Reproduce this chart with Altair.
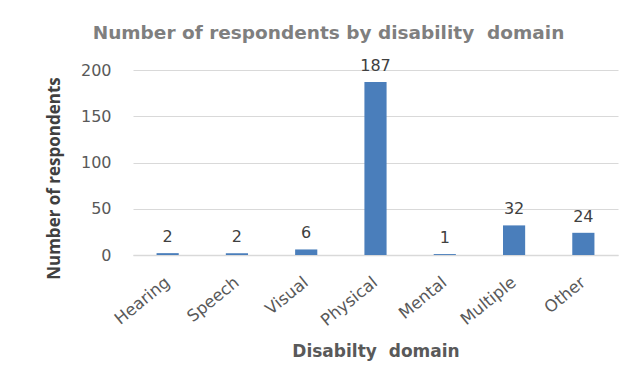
import altair as alt
import pandas as pd

categories = ["Hearing", "Speech", "Visual", "Physical", "Mental", "Multiple", "Other"]
values = [2, 2, 6, 187, 1, 32, 24]

df = pd.DataFrame({"domain": categories, "count": values})

FONT = "Open Sans"
WIDE = "DejaVu Sans"

base = alt.Chart(df).encode(
    x=alt.X("domain:N", sort=categories,
            scale=alt.Scale(paddingInner=0.68, paddingOuter=0.34),
            axis=alt.Axis(title="Disabilty \u00a0domain", labelAngle=-39, labelAlign="right",
                          labelBaseline="middle", labelPadding=25, labelFontSize=16.5,
                          labelColor="#595959", labelFont=WIDE, ticks=False, domain=True,
                          domainColor="#D9D9D9", domainWidth=1.5, titleFont=WIDE,
                          titleFontSize=17, titleFontWeight="bold", titleColor="#595959",
                          titlePadding=15)),
)

bars = base.mark_bar(color="#4A7EBB").encode(
    y=alt.Y("count:Q", scale=alt.Scale(domain=[0, 200], nice=False),
            axis=alt.Axis(title="Number of respondents", values=[0, 50, 100, 150, 200],
                          grid=True, gridColor="#D9D9D9", gridWidth=1, domain=False,
                          ticks=False, labelPadding=22, labelFontSize=16,
                          labelColor="#595959", labelFont=WIDE, titleFont=FONT,
                          titleFontSize=17, titleFontWeight="bold", titleColor="#404040",
                          titleX=-70, titleY=108))
)

labels = base.mark_text(baseline="bottom", dy=-8, fontSize=16, color="#404040",
                        font=WIDE).encode(
    y=alt.Y("count:Q"),
    text=alt.Text("count:Q"),
)

chart = (bars + labels).properties(
    width=485, height=185,
    padding={"left": 125, "top": 62, "right": 17, "bottom": 112},
    autosize=alt.AutoSizeParams(type="none"),
    title=alt.TitleParams("Number of respondents by disability \u00a0domain", font=WIDE,
                          fontSize=18.5, fontWeight="bold", color="#7F7F7F",
                          dx=-47, offset=16),
).configure_view(stroke=None)

chart.save("out.html", embed_options={"renderer": "svg", "actions": False})
